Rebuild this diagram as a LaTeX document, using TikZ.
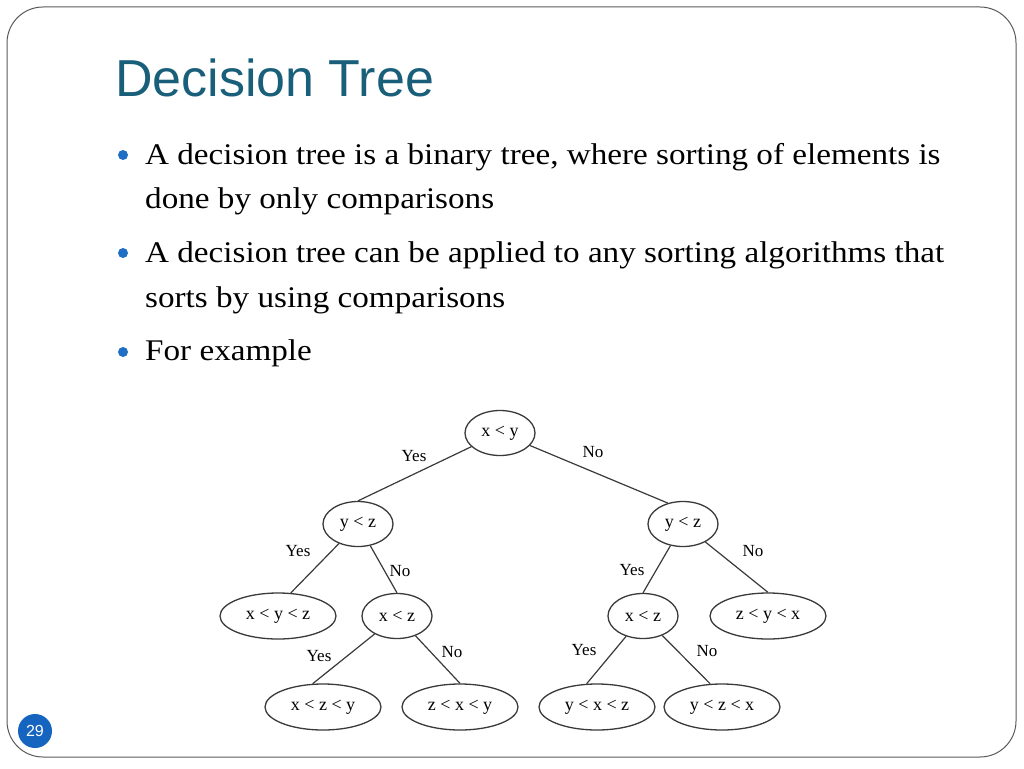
\documentclass[tikz,border=0pt]{standalone}
\usepackage{fontspec}
\setmainfont{Liberation Serif}
\newfontfamily\bodyfont[FakeStretch=1.105]{Liberation Serif}
\newfontfamily\titlefont{Liberation Sans}
\usetikzlibrary{shapes.geometric}
\definecolor{titleteal}{HTML}{1A5F7A}
\definecolor{bulletblue}{HTML}{1F6FC4}
\definecolor{pageblue}{HTML}{1565C0}
\definecolor{framegray}{HTML}{5A5A5A}
\definecolor{treegray}{HTML}{3A3A3A}
\tikzset{
  bodytext/.style={anchor=base west, inner sep=0pt, font=\bodyfont\fontsize{30}{36}\selectfont, text=black},
  bulletdot/.style={circle, fill=bulletblue, minimum size=10pt, inner sep=0pt},
  cmp/.style={ellipse, draw=treegray, line width=1.3pt, minimum width=70pt, minimum height=45pt, inner sep=0pt, font=\fontsize{18}{20}\selectfont},
  leaf/.style={cmp, minimum width=116pt, minimum height=46pt},
  edge/.style={draw=treegray, line width=1.2pt},
  lbl/.style={inner sep=0pt, font=\fontsize{17}{19}\selectfont}
}
\begin{document}
\begin{tikzpicture}[x=1pt,y=-1pt]
\useasboundingbox (0,0) rectangle (1024,768);
\fill[white] (0,0) rectangle (1024,768);
\draw[framegray, line width=1pt, rounded corners=36pt] (7,7) rectangle (1016,757);

% title
\node[anchor=base west, inner sep=0pt, font=\titlefont\fontsize{52}{60}\selectfont, text=titleteal] (title) at (115,96) {Decision Tree};

% bullets
\node[bulletdot] (b1) at (123,155) {};
\node[bulletdot] (b2) at (123,253) {};
\node[bulletdot] (b3) at (123,352) {};
\node[bodytext] (t1a) at (145,164) {A decision tree is a binary tree, where sorting of elements is};
\node[bodytext] (t1b) at (145,208) {done by only comparisons};
\node[bodytext] (t2a) at (145,262) {A decision tree can be applied to any sorting algorithms that};
\node[bodytext] (t2b) at (145,307) {sorts by using comparisons};
\node[bodytext] (t3) at (145,360) {For example};

% tree nodes
\node[cmp] (r) at (500,433) {x < y};
\node[cmp] (l) at (358,524) {y < z};
\node[cmp] (rr) at (683,524) {y < z};
\node[leaf] (xyz) at (278,616) {x < y < z};
\node[cmp] (lxz) at (397,616) {x < z};
\node[cmp] (rxz) at (643,616) {x < z};
\node[leaf] (zyx) at (768,616) {z < y < x};
\node[leaf] (xzy) at (323,707) {x < z < y};
\node[leaf] (zxy) at (460,707) {z < x < y};
\node[leaf] (yxz) at (597,707) {y < x < z};
\node[leaf] (yzx) at (722,707) {y < z < x};

% edges
\draw[edge] (r) -- (l.north);
\draw[edge] (r) -- (rr.126);
\draw[edge] (l) -- (xyz.61);
\draw[edge] (l) -- (lxz.north);
\draw[edge] (lxz) -- (xzy.114);
\draw[edge] (lxz) -- (zxy.north);
\draw[edge] (rr) -- (rxz.north);
\draw[edge] (rr) -- (zyx.north);
\draw[edge] (rxz) -- (yxz.114);
\draw[edge] (rxz) -- (yzx.117);

% edge labels
\node[lbl] (y1) at (414,456) {Yes};
\node[lbl] (n1) at (593,452) {No};
\node[lbl] (y2) at (298,551) {Yes};
\node[lbl] (n2) at (400,571) {No};
\node[lbl] (y3) at (319,656) {Yes};
\node[lbl] (n3) at (452,652) {No};
\node[lbl] (y4) at (632,570) {Yes};
\node[lbl] (n4) at (753,551) {No};
\node[lbl] (y5) at (584,650) {Yes};
\node[lbl] (n5) at (707,651) {No};

% page number
\node[circle, fill=pageblue, minimum size=34pt, inner sep=0pt, text=white, font=\titlefont\fontsize{16}{18}\selectfont] (pg) at (35,731) {29};
\end{tikzpicture}
\end{document}
